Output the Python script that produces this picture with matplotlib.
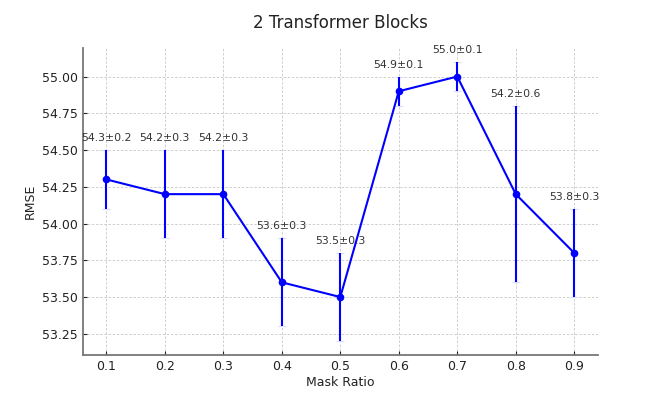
import numpy as np
import matplotlib.pyplot as plt

mask_ratio = [0.1, 0.2, 0.3, 0.4, 0.5, 0.6, 0.7, 0.8, 0.9]
rmse_mean = [54.3, 54.2, 54.2, 53.6, 53.5, 54.9, 55.0, 54.2, 53.8]
rmse_std = [0.2, 0.3, 0.3, 0.3, 0.3, 0.1, 0.1, 0.6, 0.3]

fig, ax = plt.subplots(figsize=(6.64, 3.99), dpi=100)

line, caps, bars = ax.errorbar(mask_ratio, rmse_mean, yerr=rmse_std, fmt='-o',
                               color='blue', ecolor='blue', linewidth=1.5,
                               markersize=4.5, capsize=3, capthick=0.8)
# caps are barely visible in the original, keep them behind the bars
for c in caps:
    c.set_markeredgecolor('#dcdcff')
    c.set_zorder(1)

for x, m, s in zip(mask_ratio, rmse_mean, rmse_std):
    ax.annotate(f'{m:.1f}\u00b1{s:.1f}', (x, m + s), xytext=(0, 5),
                textcoords='offset points', ha='center', va='bottom',
                fontsize=7.8, color='#333333')

ax.set_title('2 Transformer Blocks', fontsize=12, color='#222222', pad=14)
ax.set_xlabel('Mask Ratio', fontsize=9, color='#222222', labelpad=2)
ax.set_ylabel('RMSE', fontsize=9, color='#222222')
ax.set_xticks(mask_ratio)
ax.grid(True, linestyle=(0, (3, 2)), color='#c8c8c8', linewidth=0.6)
ax.set_axisbelow(True)
ax.tick_params(direction='in', labelsize=9, colors='#222222', length=3)
for side in ['top', 'right']:
    ax.spines[side].set_visible(False)
for side in ['left', 'bottom']:
    ax.spines[side].set_color('#777777')
    ax.spines[side].set_linewidth(1.3)

fig.savefig('out.png', dpi=100)
